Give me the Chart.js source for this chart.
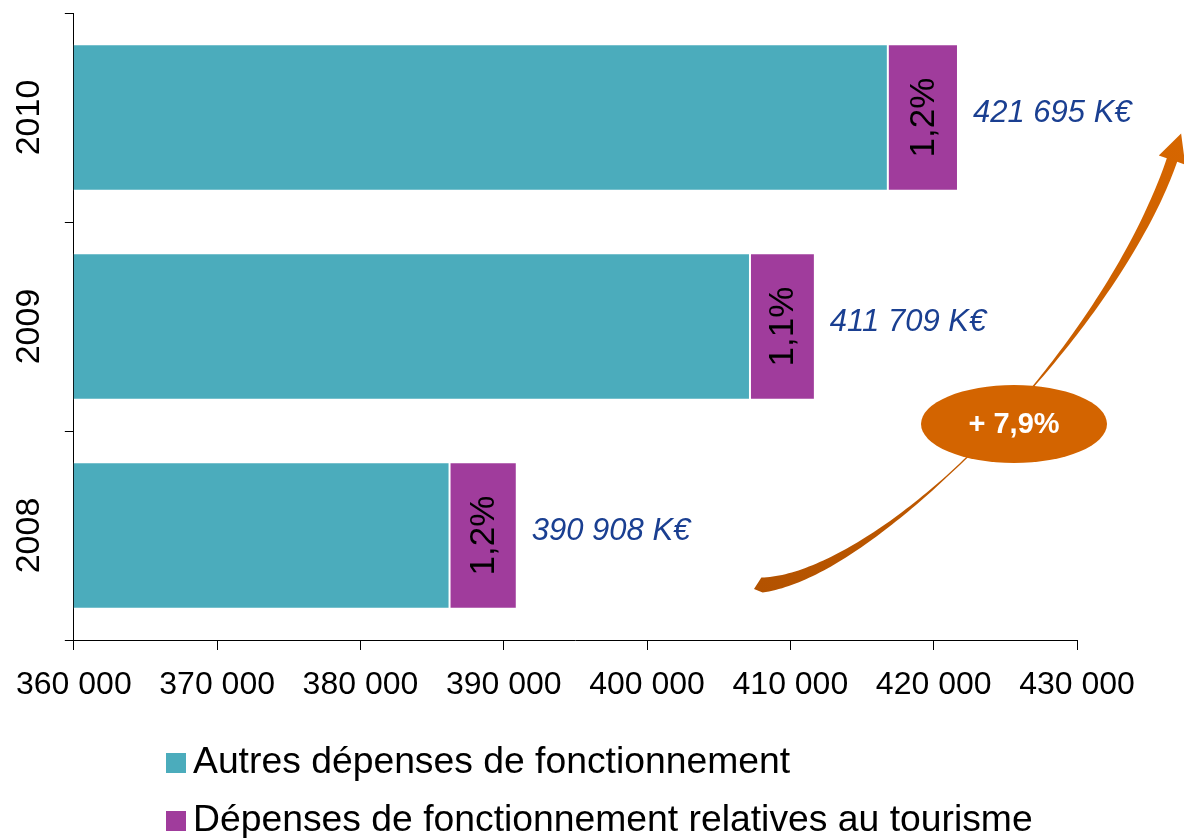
<!DOCTYPE html>
<html>
<head>
<meta charset="utf-8">
<script src="https://cdn.jsdelivr.net/npm/chart.js@4/dist/chart.umd.min.js"></script>
<style>
html,body{margin:0;padding:0;background:#fff;}
canvas{display:block;}
</style>
</head>
<body>
<canvas id="c" width="1184" height="838"></canvas>
<script>
// ---- data ----
const years = ['2010', '2009', '2008'];
const autresDepenses = [416800, 407180, 386217];
const depensesTourisme = [4895, 4529, 4691];
const totalLabels = ['421 695 K€', '411 709 K€', '390 908 K€'];
const shareLabels = ['1,2%', '1,1%', '1,2%'];
const seriesNames = ['Autres dépenses de fonctionnement', 'Dépenses de fonctionnement relatives au tourisme'];
const seriesColors = ['#4BACBC', '#A03C9C'];
const xMin = 360000, xMax = 430000, xStep = 10000;
const growthLabel = '+ 7,9%';

const FONT = '"Liberation Sans", Arial, sans-serif';
const fmt = v => String(v).replace(/\B(?=(\d{3})+(?!\d))/g, ' ');

const annotations = {
  id: 'annotations',
  afterDraw(chart) {
    const ctx = chart.ctx;
    const y = chart.scales.y;
    const meta1 = chart.getDatasetMeta(1);

    // y category labels (rotated)
    ctx.save();
    ctx.fillStyle = '#000';
    ctx.font = '34px ' + FONT;
    ctx.textAlign = 'center';
    ctx.textBaseline = 'middle';
    years.forEach((yr, i) => {
      const cy = y.getPixelForValue(i);
      ctx.save();
      ctx.translate(30, cy);
      ctx.rotate(-Math.PI / 2);
      ctx.fillText(yr, 0, 0);
      ctx.restore();
    });
    ctx.restore();

    // share labels inside purple segments
    ctx.save();
    ctx.fillStyle = '#000';
    ctx.font = '35px ' + FONT;
    ctx.textAlign = 'center';
    ctx.textBaseline = 'middle';
    meta1.data.forEach((bar, i) => {
      const cx = (bar.x + bar.base) / 2;
      ctx.save();
      ctx.translate(cx + 1, bar.y);
      ctx.rotate(-Math.PI / 2);
      ctx.fillText(shareLabels[i], 0, 0);
      ctx.restore();
    });
    ctx.restore();

    // total labels
    ctx.save();
    ctx.fillStyle = '#1A3F91';
    ctx.font = 'italic 31px ' + FONT;
    ctx.textAlign = 'left';
    ctx.textBaseline = 'middle';
    meta1.data.forEach((bar, i) => {
      ctx.fillText(totalLabels[i], bar.x + 15, bar.y - 4);
    });
    ctx.restore();

    // curved growth arrow
    const P0 = [762, 585], P1 = [880, 575], P2 = [1110, 340], P3 = [1172, 160];
    const bez = t => {
      const u = 1 - t;
      const a = u*u*u, b = 3*u*u*t, c = 3*u*t*t, d = t*t*t;
      return [a*P0[0]+b*P1[0]+c*P2[0]+d*P3[0], a*P0[1]+b*P1[1]+c*P2[1]+d*P3[1]];
    };
    const der = t => {
      const u = 1 - t;
      return [3*u*u*(P1[0]-P0[0]) + 6*u*t*(P2[0]-P1[0]) + 3*t*t*(P3[0]-P2[0]),
              3*u*u*(P1[1]-P0[1]) + 6*u*t*(P2[1]-P1[1]) + 3*t*t*(P3[1]-P2[1])];
    };
    const widthAt = t => {
      const pts = [[0, 15], [0.1, 11], [0.3, 4], [0.42, 1.3], [0.6, 1.6], [0.8, 7], [0.92, 10], [1, 11]];
      for (let k = 0; k < pts.length - 1; k++) {
        if (t <= pts[k+1][0]) {
          const f = (t - pts[k][0]) / (pts[k+1][0] - pts[k][0]);
          return pts[k][1] + f * (pts[k+1][1] - pts[k][1]);
        }
      }
      return 11;
    };
    const left = [], right = [];
    const N = 120;
    for (let k = 0; k <= N; k++) {
      const t = k / N;
      const p = bez(t), d = der(t);
      const len = Math.hypot(d[0], d[1]);
      const nx = -d[1] / len, ny = d[0] / len;
      const w = widthAt(t) / 2;
      left.push([p[0] + nx * w, p[1] + ny * w]);
      right.push([p[0] - nx * w, p[1] - ny * w]);
    }
    const grad = ctx.createLinearGradient(760, 590, 1180, 140);
    grad.addColorStop(0, '#B35200');
    grad.addColorStop(1, '#D66600');
    ctx.save();
    ctx.fillStyle = grad;
    ctx.beginPath();
    ctx.moveTo(754, 589);
    left.forEach(p => ctx.lineTo(p[0], p[1]));
    const pe = bez(1), de = der(1);
    const dl = Math.hypot(de[0], de[1]);
    const ux = de[0] / dl, uy = de[1] / dl;
    const nx = -uy, ny = ux;
    ctx.lineTo(pe[0] + nx * 14, pe[1] + ny * 14);
    ctx.lineTo(pe[0] + ux * 28, pe[1] + uy * 28);
    ctx.lineTo(pe[0] - nx * 14, pe[1] - ny * 14);
    for (let k = right.length - 1; k >= 0; k--) ctx.lineTo(right[k][0], right[k][1]);
    ctx.closePath();
    ctx.fill();
    ctx.restore();

    // ellipse with growth label
    ctx.save();
    ctx.fillStyle = '#D36400';
    ctx.beginPath();
    ctx.ellipse(1014, 424, 93, 39, 0, 0, Math.PI * 2);
    ctx.fill();
    ctx.fillStyle = '#fff';
    ctx.font = 'bold 29px ' + FONT;
    ctx.textAlign = 'center';
    ctx.textBaseline = 'middle';
    ctx.fillText(growthLabel, 1014, 425);
    ctx.restore();

    // legend
    ctx.save();
    ctx.font = '37.3px ' + FONT;
    ctx.textAlign = 'left';
    ctx.textBaseline = 'middle';
    chart.data.datasets.forEach((ds, i) => {
      const ly = 763 + i * 58;
      ctx.fillStyle = ds.backgroundColor;
      ctx.fillRect(166, ly - 10, 20, 20);
      ctx.fillStyle = '#000';
      ctx.fillText(ds.label, 193, ly);
    });
    ctx.restore();
  }
};

new Chart(document.getElementById('c'), {
  type: 'bar',
  data: {
    labels: years,
    datasets: [
      { label: seriesNames[0], data: autresDepenses, backgroundColor: seriesColors[0] },
      { label: seriesNames[1], data: depensesTourisme, backgroundColor: seriesColors[1] }
    ].map(d => Object.assign(d, {
      borderColor: 'rgba(255,255,255,0.75)', borderWidth: 1, borderSkipped: false,
      barPercentage: 0.7, categoryPercentage: 1.0
    }))
  },
  options: {
    indexAxis: 'y',
    responsive: false,
    animation: false,
    layout: { padding: { top: 13, right: 107, left: 0, bottom: 118 } },
    plugins: { legend: { display: false }, tooltip: { enabled: false } },
    scales: {
      x: {
        stacked: true,
        min: xMin, max: xMax,
        grid: { drawOnChartArea: false, tickLength: 10, color: '#000' },
        border: { color: '#000', width: 1 },
        ticks: {
          stepSize: xStep, autoSkip: false, maxRotation: 0, color: '#000', padding: 16,
          font: { family: FONT, size: 32 },
          callback: v => fmt(v)
        },
        afterFit: s => { s.height = 80; }
      },
      y: {
        stacked: true,
        grid: { drawOnChartArea: false, tickLength: 9, color: '#000', offset: true },
        border: { color: '#000', width: 1 },
        ticks: { display: false },
        afterFit: s => { s.width = 73; }
      }
    }
  },
  plugins: [annotations]
});
</script>
</body>
</html>
